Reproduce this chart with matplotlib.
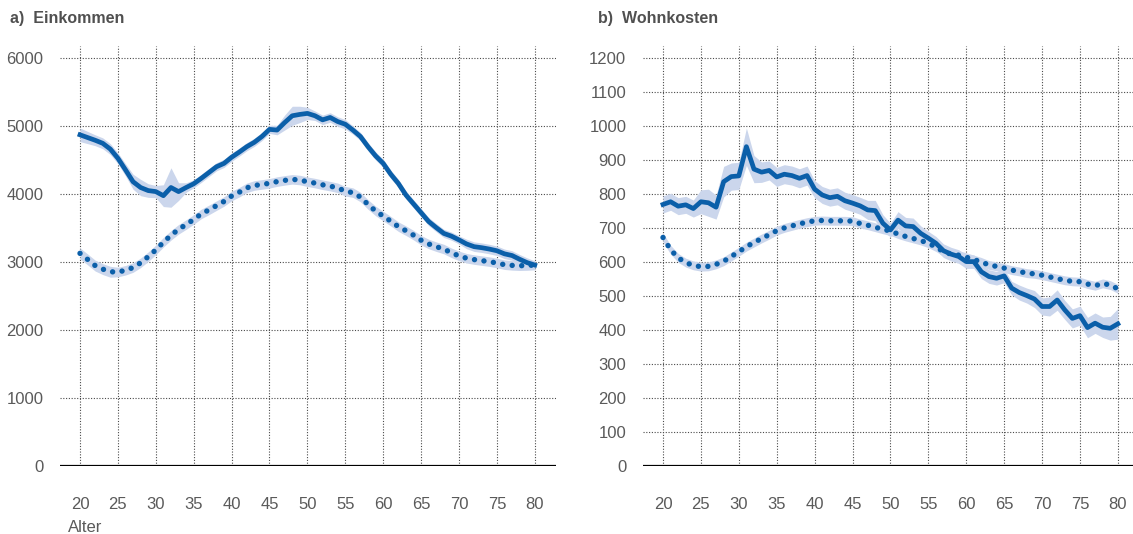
import numpy as np
import matplotlib
matplotlib.use("Agg")
import matplotlib.pyplot as plt

plt.rcParams['font.family'] = ['Liberation Sans', 'DejaVu Sans']

ages = np.arange(20, 81)

# a) Einkommen: Haushalte (durchgezogen) und Vergleichsgruppe (gepunktet)
inc_solid = [4870, 4830, 4790, 4745, 4660, 4525, 4355, 4180, 4095, 4050, 4035, 3975,
             4095, 4035, 4095, 4150, 4230, 4315, 4400, 4450, 4540, 4615, 4695, 4760,
             4845, 4950, 4940, 5050, 5150, 5170, 5185, 5150, 5090, 5125, 5065, 5025,
             4940, 4845, 4695, 4560, 4450, 4290, 4155, 3985, 3855, 3725, 3595, 3505,
             3420, 3380, 3325, 3265, 3225, 3210, 3190, 3165, 3120, 3095, 3040, 2990,
             2955]
inc_solid_ci = [100, 90, 80, 80, 80, 80, 90, 110, 120, 100, 90, 160,
                290, 130, 70, 60, 60, 60, 60, 60, 60, 60, 60, 60,
                60, 60, 70, 110, 140, 120, 90, 70, 70, 70, 70, 70,
                60, 60, 60, 60, 60, 60, 60, 60, 60, 60, 60, 60,
                60, 60, 60, 70, 70, 70, 70, 70, 70, 70, 70, 70,
                60]
inc_dot = [3127, 3038, 2947, 2895, 2856, 2852, 2878, 2918, 2988, 3078, 3178, 3290,
           3392, 3480, 3550, 3625, 3707, 3765, 3828, 3890, 3970, 4025, 4090, 4125,
           4140, 4157, 4182, 4200, 4215, 4205, 4180, 4160, 4135, 4115, 4090, 4040,
           4020, 3955, 3845, 3750, 3675, 3600, 3520, 3460, 3395, 3320, 3265, 3225,
           3190, 3135, 3090, 3055, 3035, 3020, 3005, 2985, 2960, 2950, 2945, 2948,
           2955]
inc_dot_ci = [80] * 5 + [70] * 56

# b) Wohnkosten
hous_solid = [769, 777, 764, 768, 757, 777, 774, 761, 836, 851, 853, 939,
              873, 864, 869, 850, 858, 854, 846, 854, 814, 797, 789, 793,
              780, 773, 765, 753, 751, 714, 694, 723, 706, 704, 684, 670,
              655, 633, 623, 616, 601, 601, 571, 557, 552, 559, 523, 510,
              501, 491, 469, 469, 488, 459, 434, 442, 407, 420, 408, 405,
              418]
hous_solid_ci = [25, 25, 25, 25, 25, 35, 40, 35, 45, 40, 40, 55,
                 40, 30, 28, 28, 28, 28, 28, 28, 25, 25, 25, 25,
                 25, 25, 25, 28, 30, 25, 20, 25, 25, 25, 22, 20,
                 20, 20, 20, 20, 20, 20, 20, 20, 20, 20, 20, 22,
                 22, 25, 25, 28, 30, 28, 28, 28, 30, 30, 30, 35,
                 45]
hous_dot = [672, 636, 612, 598, 590, 586, 587, 593, 602, 616, 630, 645,
            657, 669, 680, 692, 700, 706, 712, 717, 721, 722, 721, 721,
            721, 720, 713, 708, 702, 696, 691, 682, 675, 669, 663, 655,
            644, 630, 623, 620, 614, 607, 600, 591, 587, 582, 576, 572,
            567, 565, 561, 556, 551, 546, 543, 542, 535, 530, 537, 532,
            521]
hous_dot_ci = [13] * 61

x_ticks = np.arange(20, 81, 5)

LINE = '#0b5fa9'
BAND = '#cbd6ec'
GRID = '#4a4a4a'
TEXT = '#5a5a5a'

fig = plt.figure(figsize=(11.33, 5.34), dpi=100)
ax1 = fig.add_axes([60 / 1133, 68 / 534, 496 / 1133, 420 / 534])
ax2 = fig.add_axes([643 / 1133, 68 / 534, 490 / 1133, 420 / 534])


def panel(ax, solid, solid_ci, dot, dot_ci, yticks, ytop, xright):
    solid = np.array(solid)
    dot = np.array(dot)
    ax.fill_between(ages, solid - solid_ci, solid + solid_ci, color=BAND, lw=0, zorder=2)
    ax.fill_between(ages, dot - dot_ci, dot + dot_ci, color=BAND, lw=0, zorder=2)
    ax.plot(ages, solid, color=LINE, lw=3.4, solid_joinstyle='round', zorder=4)
    ax.plot(ages, dot, color=LINE, lw=3.9, linestyle=(0, (0.01, 1.75)),
            dash_capstyle='round', zorder=4)
    ax.set_xlim(17.36, xright)
    ax.set_ylim(0, ytop)
    ax.set_xticks(x_ticks)
    ax.set_yticks(yticks)
    ax.grid(True, linestyle=(0, (1, 1.5)), color=GRID, lw=0.8, zorder=1)
    ax.axhline(0, color='black', lw=1.6, zorder=5)
    for s in ax.spines.values():
        s.set_visible(False)
    ax.tick_params(length=0, labelsize=12, colors=TEXT)
    ax.tick_params(axis='x', pad=22)
    ax.tick_params(axis='y', pad=12)
    ax.set_axisbelow(True)


panel(ax1, inc_solid, inc_solid_ci, inc_dot, inc_dot_ci,
      np.arange(0, 6001, 1000), 6176, 82.8)
panel(ax2, hous_solid, hous_solid_ci, hous_dot, hous_dot_ci,
      np.arange(0, 1201, 100), 1235, 82.0)

fig.text(10 / 1133, 1 - 18 / 534, 'a)  Einkommen', fontsize=11.5, fontweight='bold',
         color='#505050', va='center', ha='left')
fig.text(598 / 1133, 1 - 18 / 534, 'b)  Wohnkosten', fontsize=11.5, fontweight='bold',
         color='#505050', va='center', ha='left')
fig.text(68 / 1133, 1 - 528 / 534, 'Alter', fontsize=12, color=TEXT, va='center', ha='left')

fig.savefig('out.png', dpi=100)
